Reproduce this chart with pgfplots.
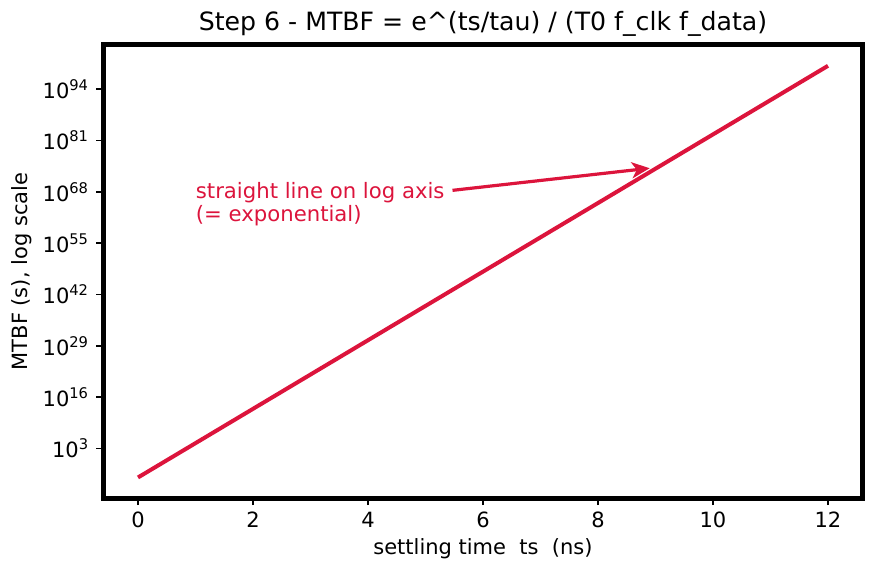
\documentclass[border=0pt]{standalone}
\usepackage{fontspec}
\setmainfont{DejaVu Sans}
\usepackage{pgfplots}
\pgfplotsset{compat=1.18}
\usetikzlibrary{arrows.meta}
\definecolor{crim}{RGB}{220,20,60}
\begin{document}
\fontsize{10.5bp}{12.6bp}\selectfont
\begin{tikzpicture}
\begin{axis}[
  width=379.5bp, height=226.5bp, scale only axis,
  at={(0,0)}, anchor=south west,
  ymode=log,
  xmin=-0.6, xmax=12.6,
  ymin=3.16e-10, ymax=1.58e105,
  xtick={0,2,4,6,8,10,12},
  ytick={1e3,1e16,1e29,1e42,1e55,1e68,1e81,1e94},
  yticklabels={10\textsuperscript{3},10\textsuperscript{16},10\textsuperscript{29},10\textsuperscript{42},10\textsuperscript{55},10\textsuperscript{68},10\textsuperscript{81},10\textsuperscript{94}},
  yminorticks=false, xminorticks=false,
  /pgf/number format/assume math mode=true,
  tick align=outside, major tick length=3.5bp,
  tick style={black, line width=0.8bp},
  xtick pos=bottom, ytick pos=left,
  axis line style={line width=2.5bp},
  ticklabel style={font=\fontsize{10.5bp}{12.6bp}\selectfont},
  label style={font=\fontsize{10.5bp}{12.6bp}\selectfont},
  xlabel={settling time\ \ ts\ \ (ns)},
  ylabel={MTBF (s), log scale},
  xlabel style={at={(axis description cs:0.5,-0.1126)}, anchor=center},
  ylabel style={at={(axis description cs:-0.1074,0.5)}, anchor=center, rotate=0},
  title={Step 6 - MTBF = e\^{}(ts/tau) / (T0 f\_clk f\_data)},
  title style={at={(axis description cs:0.5,1.021)}, anchor=center, font=\fontsize{12.6bp}{15bp}\selectfont},
  clip=true,
]
\addplot[crim, line width=2bp] coordinates {
(0,5.01e-5) (1,2.43e4) (2,1.18e13) (3,5.73e21) (4,2.78e30) (5,1.35e39) (6,6.53e47)
(7,3.17e56) (8,1.54e65) (9,7.47e73) (10,3.62e82) (11,1.75e91) (12,8.51e99)
};
\node[anchor=west, align=left, text=crim, inner sep=0pt, font=\fontsize{10.6bp}{11.5bp}\selectfont] at (axis cs:1,1e65) {straight line on log axis\\(= exponential)};
\draw[crim, line width=1.6bp, -{Stealth[length=9bp,width=8bp,inset=2.5bp]}] (axis cs:5.47,2.5e68) -- (axis cs:8.9,1e74);
\end{axis}
\pgfresetboundingbox
\path[use as bounding box] (-51.75bp,-37.5bp) rectangle (386.25bp,249bp);
\end{tikzpicture}
\end{document}
